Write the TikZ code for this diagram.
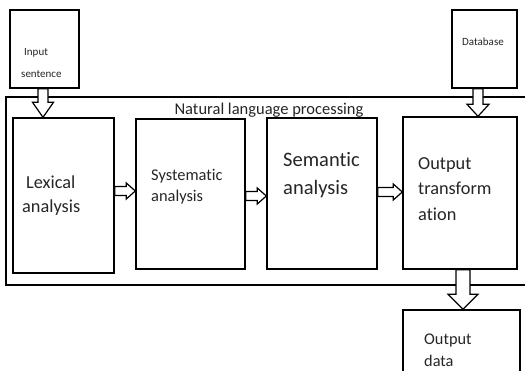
\documentclass[tikz,border=0pt]{standalone}
\usepackage{fontspec}
\setmainfont{Carlito}[Ligatures={NoCommon}]
\usetikzlibrary{calc}
\definecolor{txt}{HTML}{262626}
\tikzset{
  boxs/.style={draw=black, line width=1.4pt, fill=white, inner sep=0pt},
  lbl/.style={inner sep=0pt, align=left, text=txt, anchor=west},
  blk/.style={draw=black, line width=1.2pt, fill=white, line join=miter}
}
\newcommand{\harrowx}[6]{%
\draw[blk] let \p1=(#1), \p2=(#2) in
 (\x1,{-#3pt+#4pt}) -- ({\x2-#6pt},{-#3pt+#4pt}) -- ({\x2-#6pt},{-#3pt+#5pt}) -- (\x2,{-#3pt}) -- ({\x2-#6pt},{-#3pt-#5pt}) -- ({\x2-#6pt},{-#3pt-#4pt}) -- (\x1,{-#3pt-#4pt}) -- cycle;}
\newcommand{\varrowx}[6]{%
\draw[blk] let \p1=(#1), \p2=(#2) in
 ({#3pt-#4pt},\y1) -- ({#3pt-#4pt},{\y2+#6pt}) -- ({#3pt-#5pt},{\y2+#6pt}) -- (#3pt,\y2) -- ({#3pt+#5pt},{\y2+#6pt}) -- ({#3pt+#4pt},{\y2+#6pt}) -- ({#3pt+#4pt},\y1) -- cycle;}
\begin{document}
\begin{tikzpicture}[x=1pt,y=-1pt]
\useasboundingbox (0,0) rectangle (525,371);
% outer container
\node[boxs, minimum width=529pt, minimum height=188pt] (nlp) at (270.5,191) {};
\node[inner sep=0pt, text=txt, font=\fontsize{16.5}{20}\selectfont, anchor=base] (nlpl) at (269,115) {Natural language processing};
% boxes
\node[boxs, minimum width=69pt, minimum height=78pt] (inp) at (44.5,49) {};
\node[boxs, minimum width=65pt, minimum height=78pt] (db) at (484.5,49) {};
\node[boxs, minimum width=101pt, minimum height=155pt] (lex) at (63.5,195.5) {};
\node[boxs, minimum width=109pt, minimum height=150pt] (sys) at (190.5,194) {};
\node[boxs, minimum width=110pt, minimum height=151pt] (sem) at (322,193.5) {};
\node[boxs, minimum width=114pt, minimum height=152pt] (out) at (460,193) {};
\node[boxs, minimum width=117pt, minimum height=70pt] (odata) at (461.5,345) {};
% texts
\node[lbl, font=\fontsize{11}{22}\selectfont] (inpt) at (21,63) {\hspace*{3pt}Input\\sentence};
\node[lbl, font=\fontsize{11}{13}\selectfont] (dbt) at (462,42) {Database};
\node[lbl, font=\fontsize{18.3}{24}\selectfont] (lext) at (22,196) {\hspace*{4pt}Lexical\\analysis};
\node[lbl, font=\fontsize{16.4}{21}\selectfont] (syst) at (151,187) {Systematic\\analysis};
\node[lbl, font=\fontsize{20.5}{28}\selectfont] (semt) at (283,175) {Semantic\\analysis};
\node[lbl, font=\fontsize{18.3}{25.5}\selectfont] (outt) at (418,189) {Output\\transform\\ation};
\node[lbl, font=\fontsize{16.3}{22}\selectfont] (odatat) at (424,350) {Output\\data};
% block arrows
\varrowx{inp.south}{lex.north}{43}{5}{10.5}{15}
\varrowx{db.south}{out.north}{478}{5}{11}{12}
\varrowx{out.south}{odata.north}{463}{7}{15}{15}
\harrowx{lex.east}{sys.west}{191}{4.5}{8}{9}
\harrowx{sys.west -| sys.east}{sem.west}{196}{4.5}{8}{9}
\harrowx{sem.east}{out.west}{192}{4.5}{8}{9}
\end{tikzpicture}
\end{document}
